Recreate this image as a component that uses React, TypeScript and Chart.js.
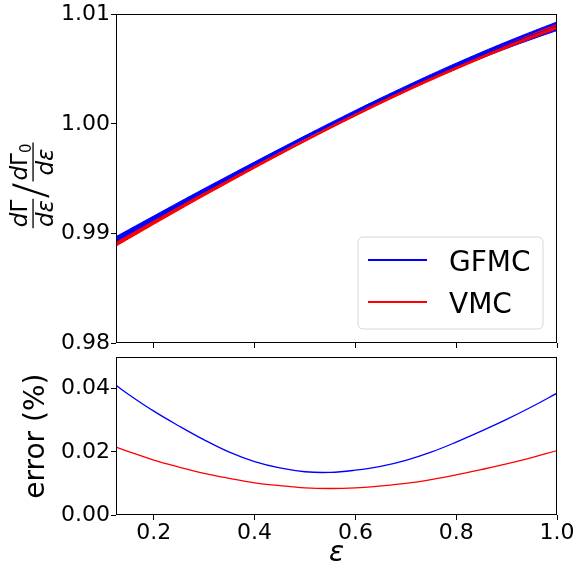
import React, { useEffect, useRef } from 'react';
import { Chart, registerables } from 'chart.js';

Chart.register(...registerables);

// ---------- data ----------
const EPS = [0.125, 0.15, 0.2, 0.25, 0.3, 0.35, 0.4, 0.45, 0.5, 0.55, 0.6, 0.65, 0.7, 0.75, 0.8, 0.85, 0.9, 0.95, 1.0];
const GFMC_RATIO = [0.9893, 0.98996, 0.99127, 0.99257, 0.99385, 0.99511, 0.99635, 0.99757, 0.99877, 0.99994, 1.00108, 1.00219, 1.00326, 1.0043, 1.0053, 1.00626, 1.00718, 1.00806, 1.0089];
const VMC_RATIO = [0.98905, 0.9897, 0.991, 0.99229, 0.99356, 0.99481, 0.99605, 0.99727, 0.99847, 0.99965, 1.0008, 1.00193, 1.00302, 1.00408, 1.0051, 1.0061, 1.00706, 1.00799, 1.00887];
const GFMC_ERR = [0.0411, 0.0382, 0.0329, 0.0282, 0.0238, 0.0199, 0.0169, 0.0149, 0.0137, 0.0135, 0.0142, 0.0154, 0.0173, 0.0199, 0.0231, 0.0266, 0.0303, 0.0343, 0.0386];
const VMC_ERR = [0.0215, 0.0201, 0.0174, 0.0152, 0.0132, 0.0116, 0.0102, 0.0093, 0.0086, 0.0084, 0.0086, 0.0092, 0.01, 0.0112, 0.0127, 0.0144, 0.0162, 0.0182, 0.0204];

const SERIES_LABELS = ['GFMC', 'VMC'];
const SERIES_COLORS = ['#0000ff', '#ff0000'];

const X_TICKS = [0.2, 0.4, 0.6, 0.8, 1.0];
const TOP_Y_TICKS = [0.98, 0.99, 1.0, 1.01];
const BOTTOM_Y_TICKS = [0, 0.02, 0.04];
const X_TITLE = 'ε';
const BOTTOM_Y_TITLE = 'error (%)';

const FONT = '"DejaVu Sans"';

const pts = (ys: number[]) => EPS.map((x, i) => ({ x, y: ys[i] }));
const band = (c: number[], e: number[], sign: number) => c.map((v, i) => v * (1 + sign * e[i] / 100));

const framePlugin = {
  id: 'frame',
  afterDraw(chart: any) {
    const { ctx, chartArea: a } = chart;
    ctx.save();
    ctx.strokeStyle = '#000';
    ctx.lineWidth = 1;
    ctx.strokeRect(Math.round(a.left) + 0.5, Math.round(a.top) + 0.5, Math.round(a.right - a.left) - 1, Math.round(a.bottom - a.top) - 1);
    ctx.restore();
  },
};

type Run = { t: string; font: string; dy?: number };

function runsWidth(ctx: CanvasRenderingContext2D, runs: Run[]) {
  let w = 0;
  for (const r of runs) { ctx.font = r.font; w += ctx.measureText(r.t).width; }
  return w;
}
function drawRuns(ctx: CanvasRenderingContext2D, runs: Run[], cx: number, baseline: number) {
  let x = cx - runsWidth(ctx, runs) / 2;
  for (const r of runs) {
    ctx.font = r.font;
    ctx.fillText(r.t, x, baseline + (r.dy || 0));
    x += ctx.measureText(r.t).width;
  }
}

const fractionLabelPlugin = {
  id: 'fracLabel',
  afterDraw(chart: any) {
    const ctx: CanvasRenderingContext2D = chart.ctx;
    const F = 23;
    const it = `italic ${F}px ${FONT}`;
    const up = `${F}px ${FONT}`;
    const sub = `15px ${FONT}`;
    const num1: Run[] = [{ t: 'd', font: it }, { t: 'Γ', font: up }];
    const num2: Run[] = [{ t: 'd', font: it }, { t: 'Γ', font: up }, { t: '0', font: sub, dy: 4 }];
    const den: Run[] = [{ t: 'd', font: it }, { t: 'ε', font: it }];
    ctx.save();
    ctx.fillStyle = '#000';
    ctx.textAlign = 'left';
    ctx.textBaseline = 'alphabetic';
    ctx.translate(31, 187);
    ctx.rotate(-Math.PI / 2);
    const frac = (num: Run[], cxr: number) => {
      const w = Math.max(runsWidth(ctx, num), runsWidth(ctx, den)) + 2;
      drawRuns(ctx, num, cxr, -4);
      ctx.fillRect(cxr - w / 2, 1.4, w, 1.3);
      drawRuns(ctx, den, cxr, 22);
    };
    frac(num1, -26.5);
    frac(num2, 25);
    ctx.save();
    ctx.translate(-4, 2);
    ctx.transform(1, 0, -0.22, 1.6, 0, 0);
    ctx.font = `28px ${FONT}`;
    ctx.textAlign = 'center';
    ctx.textBaseline = 'middle';
    ctx.fillText('/', 0, 0);
    ctx.restore();
    ctx.restore();
  },
};

const legendPlugin = {
  id: 'boxLegend',
  afterDraw(chart: any) {
    const ctx: CanvasRenderingContext2D = chart.ctx;
    ctx.save();
    ctx.beginPath();
    (ctx as any).roundRect(358, 237, 185, 92, 5);
    ctx.fillStyle = 'rgba(255,255,255,0.8)';
    ctx.fill();
    ctx.strokeStyle = '#d6d6d6';
    ctx.lineWidth = 1;
    ctx.stroke();
    const rows = [260, 302];
    SERIES_LABELS.forEach((lab, i) => {
      ctx.strokeStyle = SERIES_COLORS[i];
      ctx.lineWidth = 2;
      ctx.beginPath();
      ctx.moveTo(368, rows[i]);
      ctx.lineTo(427, rows[i]);
      ctx.stroke();
      ctx.fillStyle = '#000';
      ctx.font = `28px ${FONT}`;
      ctx.textAlign = 'left';
      ctx.textBaseline = 'alphabetic';
      ctx.fillText(lab, 449, rows[i] + 10.5);
    });
    ctx.restore();
  },
};

const tickGrid = { drawOnChartArea: false, drawTicks: true, tickLength: 5, color: '#000', lineWidth: 1 };

export default function App() {
  const topRef = useRef<HTMLCanvasElement>(null);
  const botRef = useRef<HTMLCanvasElement>(null);

  useEffect(() => {
    Chart.defaults.font.family = FONT;
    Chart.defaults.color = '#000';
    const common: any = {
      animation: false,
      responsive: false,
      devicePixelRatio: 1,
      plugins: { legend: { display: false }, tooltip: { enabled: false } },
      elements: { point: { radius: 0 }, line: { tension: 0.4 } },
    };

    const top = new Chart(topRef.current as HTMLCanvasElement, {
      type: 'line',
      data: {
        datasets: [
          { label: SERIES_LABELS[0], data: pts(GFMC_RATIO), borderColor: SERIES_COLORS[0], borderWidth: 1.5, fill: false, order: 2 },
          { label: SERIES_LABELS[1], data: pts(VMC_RATIO), borderColor: SERIES_COLORS[1], borderWidth: 1.5, fill: false, order: 1 },
          { label: 'gu', data: pts(band(GFMC_RATIO, GFMC_ERR, 1)), borderColor: SERIES_COLORS[0], backgroundColor: SERIES_COLORS[0], borderWidth: 1, fill: '+1', order: 6 },
          { label: 'gl', data: pts(band(GFMC_RATIO, GFMC_ERR, -1)), borderColor: SERIES_COLORS[0], borderWidth: 1, fill: false, order: 5 },
          { label: 'vu', data: pts(band(VMC_RATIO, VMC_ERR, 1)), borderColor: SERIES_COLORS[1], backgroundColor: SERIES_COLORS[1], borderWidth: 1, fill: '+1', order: 4 },
          { label: 'vl', data: pts(band(VMC_RATIO, VMC_ERR, -1)), borderColor: SERIES_COLORS[1], borderWidth: 1, fill: false, order: 3 },
        ] as any,
      },
      options: {
        ...common,
        layout: { padding: { left: 0, right: 21, top: 14, bottom: 0 } },
        scales: {
          x: {
            type: 'linear', min: 0.125, max: 1.0,
            afterBuildTicks: (s: any) => { s.ticks = X_TICKS.map((v) => ({ value: v })); },
            ticks: { display: false },
            grid: tickGrid, border: { display: false },
            afterFit: (s: any) => { s.height = 17; },
          },
          y: {
            type: 'linear', min: 0.98, max: 1.01,
            afterBuildTicks: (s: any) => { s.ticks = TOP_Y_TICKS.map((v) => ({ value: v })); },
            ticks: { callback: (v: any) => Number(v).toFixed(2), font: { size: 22 }, color: '#000', padding: 1 },
            grid: tickGrid, border: { display: false },
            afterFit: (s: any) => { s.width = 116; },
          },
        },
      } as any,
      plugins: [framePlugin, legendPlugin, fractionLabelPlugin],
    });

    const bot = new Chart(botRef.current as HTMLCanvasElement, {
      type: 'line',
      data: {
        datasets: [
          { label: SERIES_LABELS[0], data: pts(GFMC_ERR), borderColor: SERIES_COLORS[0], borderWidth: 1.3, fill: false },
          { label: SERIES_LABELS[1], data: pts(VMC_ERR), borderColor: SERIES_COLORS[1], borderWidth: 1.3, fill: false },
        ] as any,
      },
      options: {
        ...common,
        layout: { padding: { left: 0, right: 21, top: 14, bottom: 0 } },
        scales: {
          x: {
            type: 'linear', min: 0.125, max: 1.0,
            afterBuildTicks: (s: any) => { s.ticks = X_TICKS.map((v) => ({ value: v })); },
            ticks: { callback: (v: any) => Number(v).toFixed(1), font: { size: 22 }, color: '#000', padding: 0, maxRotation: 0 },
            grid: tickGrid, border: { display: false },
            title: { display: true, text: X_TITLE, font: { size: 28, style: 'italic' }, color: '#000', padding: { top: 0, bottom: 4 } },
            afterFit: (s: any) => { s.height = 60; },
          },
          y: {
            type: 'linear', min: 0, max: 0.05,
            afterBuildTicks: (s: any) => { s.ticks = BOTTOM_Y_TICKS.map((v) => ({ value: v })); },
            ticks: { callback: (v: any) => Number(v).toFixed(2), font: { size: 22 }, color: '#000', padding: 1 },
            grid: tickGrid, border: { display: false },
            title: { display: true, text: BOTTOM_Y_TITLE, font: { size: 28 }, color: '#000', padding: { top: 20, bottom: 0 } },
            afterFit: (s: any) => { s.width = 116; },
          },
        },
      } as any,
      plugins: [framePlugin],
    });

    return () => { top.destroy(); bot.destroy(); };
  }, []);

  return (
    <div style={{ position: 'absolute', left: 0, top: 0, width: 578, height: 575, background: '#fff' }}>
      <canvas ref={topRef} width={578} height={360} style={{ position: 'absolute', left: 0, top: 0, width: 578, height: 360 }} />
      <canvas ref={botRef} width={578} height={232} style={{ position: 'absolute', left: 0, top: 343, width: 578, height: 232 }} />
    </div>
  );
}
